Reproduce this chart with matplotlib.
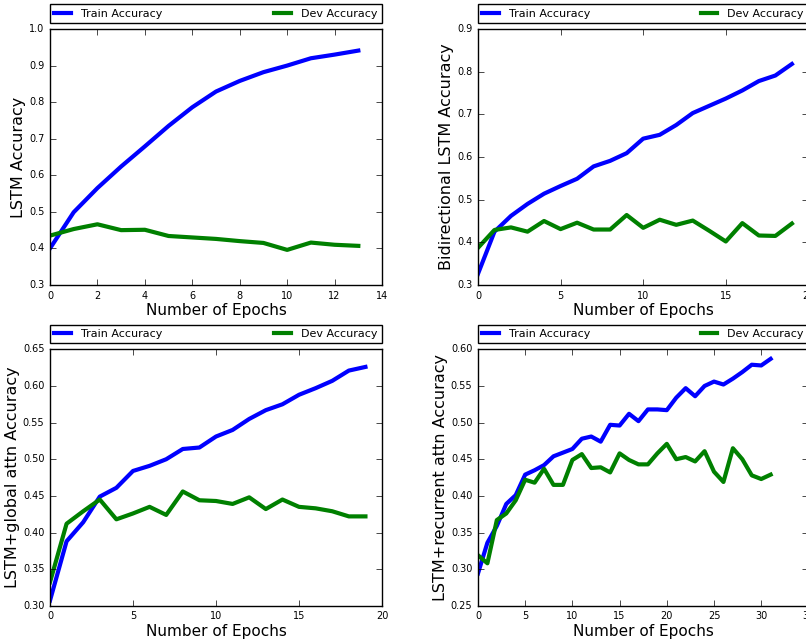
import matplotlib
matplotlib.use('Agg')
import matplotlib.pyplot as plt

plt.style.use('classic')

# LSTM
lstm_train = [0.400, 0.499, 0.565, 0.624, 0.679, 0.735, 0.786, 0.829, 0.858, 0.882,
              0.900, 0.920, 0.930, 0.941]
lstm_dev = [0.435, 0.453, 0.466, 0.450, 0.451, 0.434, 0.430, 0.426, 0.420, 0.415,
            0.396, 0.416, 0.410, 0.407]

# Bidirectional LSTM
bi_train = [0.326, 0.425, 0.462, 0.490, 0.514, 0.532, 0.549, 0.578, 0.591, 0.609,
            0.643, 0.652, 0.675, 0.703, 0.720, 0.737, 0.756, 0.778, 0.791, 0.818]
bi_dev = [0.387, 0.429, 0.435, 0.425, 0.450, 0.431, 0.446, 0.430, 0.430, 0.464,
          0.434, 0.453, 0.441, 0.451, 0.427, 0.402, 0.445, 0.416, 0.415, 0.444]

# LSTM + global attention
glob_train = [0.307, 0.388, 0.414, 0.449, 0.461, 0.484, 0.491, 0.500, 0.514, 0.516,
              0.531, 0.540, 0.555, 0.567, 0.575, 0.588, 0.597, 0.607, 0.621, 0.626]
glob_dev = [0.332, 0.412, 0.429, 0.445, 0.418, 0.426, 0.435, 0.424, 0.456, 0.444,
            0.443, 0.439, 0.448, 0.432, 0.445, 0.435, 0.433, 0.429, 0.422, 0.422]

# LSTM + recurrent attention
rec_train = [0.294, 0.336, 0.359, 0.389, 0.401, 0.429, 0.435, 0.442, 0.454, 0.459,
             0.464, 0.478, 0.481, 0.474, 0.497, 0.496, 0.512, 0.502, 0.518, 0.518,
             0.517, 0.534, 0.547, 0.536, 0.550, 0.556, 0.552, 0.560, 0.569, 0.579,
             0.578, 0.587]
rec_dev = [0.319, 0.308, 0.367, 0.376, 0.394, 0.422, 0.418, 0.437, 0.415, 0.415,
           0.449, 0.457, 0.438, 0.439, 0.432, 0.458, 0.449, 0.443, 0.443, 0.458,
           0.471, 0.450, 0.453, 0.447, 0.461, 0.433, 0.419, 0.465, 0.450, 0.428,
           0.423, 0.429]

panels = [
    (lstm_train, lstm_dev, 'LSTM Accuracy', (0, 14), (0.3, 1.0), None),
    (bi_train, bi_dev, 'Bidirectional LSTM Accuracy', (0, 20), (0.3, 0.9), None),
    (glob_train, glob_dev, 'LSTM+global attn Accuracy', (0, 20), (0.30, 0.65), '%.2f'),
    (rec_train, rec_dev, 'LSTM+recurrent attn Accuracy', (0, 35), (0.25, 0.60), '%.2f'),
]

# axes rectangles in figure fraction (right column runs off the image edge)
rects = [
    [0.062, 0.554, 0.412, 0.4006],
    [0.593, 0.554, 0.410, 0.4006],
    [0.062, 0.052, 0.412, 0.4013],
    [0.593, 0.052, 0.410, 0.4013],
]

fig = plt.figure(figsize=(8.06, 6.39), dpi=100, facecolor='white')

for (train, dev, ylabel, xlim, ylim, fmt), rect in zip(panels, rects):
    ax = fig.add_axes(rect)
    epochs = range(len(train))
    ax.plot(epochs, train, color='b', linewidth=3, label='Train Accuracy')
    ax.plot(epochs, dev, color='g', linewidth=3, label='Dev Accuracy')
    ax.set_xlim(xlim)
    ax.set_ylim(ylim)
    if fmt:
        ax.yaxis.set_major_formatter(matplotlib.ticker.FormatStrFormatter(fmt))
    ax.tick_params(labelsize=7)
    ax.set_xlabel('Number of Epochs', fontsize=11, labelpad=2)
    ax.set_ylabel(ylabel, fontsize=11.5, labelpad=2)
    ax.legend(bbox_to_anchor=(0., 1.023, 1., 0.07), loc=3, ncol=2, mode='expand',
              borderaxespad=0., fontsize=8, numpoints=1, handlelength=1.5,
              borderpad=0.4, handletextpad=0.9)

fig.savefig('out.png', dpi=100, facecolor='white')
